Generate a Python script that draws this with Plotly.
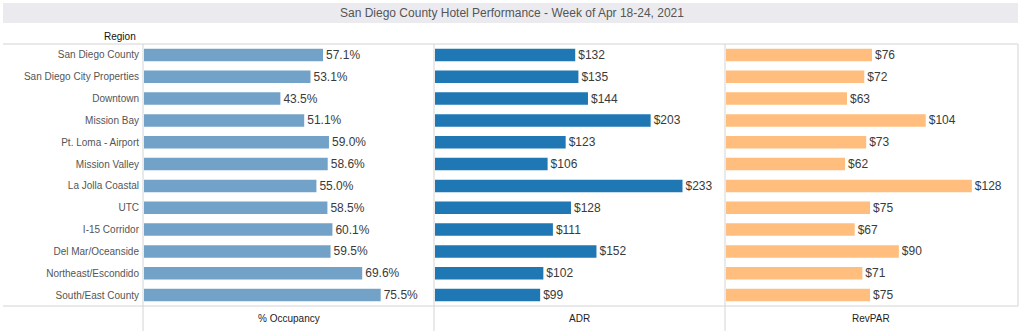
import plotly.graph_objects as go

regions = ["San Diego County", "San Diego City Properties", "Downtown", "Mission Bay",
           "Pt. Loma - Airport", "Mission Valley", "La Jolla Coastal", "UTC",
           "I-15 Corridor", "Del Mar/Oceanside", "Northeast/Escondido", "South/East County"]
occupancy = [57.1, 53.1, 43.5, 51.1, 59.0, 58.6, 55.0, 58.5, 60.1, 59.5, 69.6, 75.5]
adr = [132, 135, 144, 203, 123, 106, 233, 128, 111, 152, 102, 99]
revpar = [76, 72, 63, 104, 73, 62, 128, 75, 67, 90, 71, 75]
columns = ["% Occupancy", "ADR", "RevPAR"]
title = "San Diego County Hotel Performance - Week of Apr 18-24, 2021"

W, H = 1024, 331
def px(x): return x / W
def py(y): return 1 - y / H

top, bot = 44, 306
edges = [143, 434, 725, 1016]
colors = ["#73a2c9", "#1f77b4", "#ffbe7d"]
ranges = [[0, 92.5], [0, 273], [0, 151]]
series = [occupancy, adr, revpar]
texts = [[f"{v:.1f}%" for v in occupancy], [f"${v}" for v in adr], [f"${v}" for v in revpar]]

fig = go.Figure()
for i in range(3):
    xa = "x" if i == 0 else f"x{i+1}"
    fig.add_trace(go.Bar(
        y=regions, x=series[i], orientation="h", xaxis=xa, yaxis="y",
        marker=dict(color=colors[i], line=dict(width=0)), width=0.57,
        text=texts[i], textposition="outside", cliponaxis=False, constraintext="none",
        textfont=dict(size=12, color="#3a3a3a", family="Liberation Sans, Arial"),
        hoverinfo="skip", showlegend=False))

layout = dict(
    width=W, height=H, margin=dict(l=0, r=0, t=0, b=0),
    paper_bgcolor="white", plot_bgcolor="white",
    font=dict(family="Liberation Sans, Arial", size=10, color="#333333"),
    yaxis=dict(domain=[py(bot), py(top)], autorange="reversed", anchor="x",
               showgrid=False, zeroline=False, showline=False, ticks="",
               tickfont=dict(size=10, color="#555555"), ticklabelstandoff=4),
)
for i in range(3):
    key = "xaxis" if i == 0 else f"xaxis{i+1}"
    layout[key] = dict(domain=[px(edges[i] + 1), px(edges[i + 1])], range=ranges[i],
                       anchor="y", showgrid=False, zeroline=False, showline=False,
                       showticklabels=False, ticks="", fixedrange=True)
fig.update_layout(**layout)

line = dict(color="#d4d4d4", width=1)
shapes = [
    dict(type="rect", xref="paper", yref="paper", x0=px(3), x1=px(1018), y0=py(23), y1=py(3),
         fillcolor="#ebebef", line=dict(width=0), layer="below"),
    dict(type="line", xref="paper", yref="paper", x0=px(3), x1=px(1018), y0=py(top), y1=py(top), line=line),
    dict(type="line", xref="paper", yref="paper", x0=px(3), x1=px(1018), y0=py(bot), y1=py(bot), line=line),
    dict(type="line", xref="paper", yref="paper", x0=px(1018), x1=px(1018), y0=py(bot), y1=py(top), line=line),
]
for e in edges[:3]:
    shapes.append(dict(type="line", xref="paper", yref="paper", x0=px(e), x1=px(e),
                       y0=0, y1=py(top), line=line))
fig.update_layout(shapes=shapes)

ann = [
    dict(text=title, x=px(512), y=py(13), xref="paper", yref="paper", showarrow=False,
         font=dict(size=12, color="#555555"), xanchor="center", yanchor="middle"),
    dict(text="Region", x=px(138), y=py(37), xref="paper", yref="paper", showarrow=False,
         font=dict(size=10, color="#111111"), xanchor="right", yanchor="middle"),
]
for i, c in enumerate(columns):
    ann.append(dict(text=c, x=px((edges[i] + edges[i + 1]) / 2), y=py(318), xref="paper", yref="paper",
                    showarrow=False, font=dict(size=10, color="#222222"), xanchor="center", yanchor="middle"))
fig.update_layout(annotations=ann)

fig.write_html("out.html")
